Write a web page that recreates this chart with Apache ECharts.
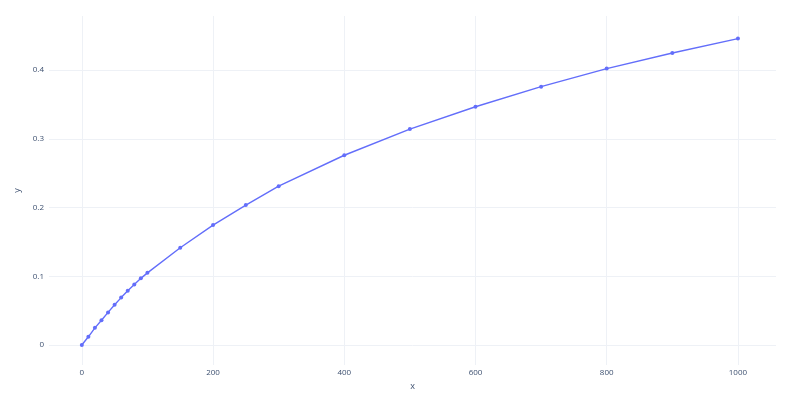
<!DOCTYPE html>
<html>
<head>
<meta charset="utf-8">
<script src="https://cdn.jsdelivr.net/npm/echarts@6/dist/echarts.min.js"></script>
<style>html,body{margin:0;padding:0;background:#fff}#c{width:800px;height:402px}</style>
</head>
<body>
<div id="c"></div>
<script>
const xValues = [0,10,20,30,40,50,60,70,80,90,100,150,200,250,300,400,500,600,700,800,900,1000];
const yValues = [0,0.012,0.025,0.036,0.0475,0.0585,0.069,0.079,0.088,0.097,0.105,0.1415,0.1745,0.2035,0.231,0.276,0.314,0.3465,0.3758,0.402,0.4247,0.4456];
const xTicks = [0,200,400,600,800,1000];
const yTicks = [0,0.1,0.2,0.3,0.4];

const chart = echarts.init(document.getElementById('c'), null, {renderer:'canvas'});
const font = {fontFamily:'"Open Sans", sans-serif', fontSize:8, color:'#3d5070'};
chart.setOption({
  animation:false,
  backgroundColor:'#fff',
  grid:{left:49,right:24,top:16,bottom:37,containLabel:false},
  xAxis:{
    type:'value', min:-50, max:1058,
    name:'x', nameLocation:'middle', nameGap:14,
    nameTextStyle:{fontFamily:'"Open Sans", sans-serif', fontSize:9, color:'#3d5070'},
    axisLine:{show:false}, axisTick:{show:false, customValues:xTicks},
    axisLabel:Object.assign({customValues:xTicks, margin:4, formatter:v=>String(v)}, font),
    splitLine:{show:true, lineStyle:{color:'#eef1f6', width:1}}
  },
  yAxis:{
    type:'value', min:-0.029, max:0.4785,
    name:'y', nameLocation:'middle', nameGap:26, nameRotate:90,
    nameTextStyle:{fontFamily:'"Open Sans", sans-serif', fontSize:9, color:'#3d5070'},
    axisLine:{show:false}, axisTick:{show:false, customValues:yTicks},
    axisLabel:Object.assign({customValues:yTicks, margin:5, formatter:v=>String(+v.toFixed(2))}, font),
    splitLine:{show:true, lineStyle:{color:'#eef1f6', width:1}}
  },
  series:[{
    type:'line',
    data:xValues.map((x,i)=>[x,yValues[i]]),
    symbol:'circle', symbolSize:4, showSymbol:true,
    lineStyle:{color:'#636efa', width:1.4},
    itemStyle:{color:'#636efa'}
  }]
});
</script>
</body>
</html>
